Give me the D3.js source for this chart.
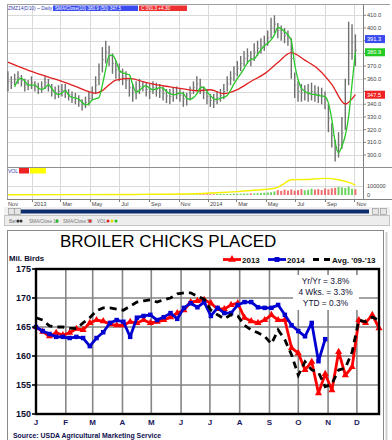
<!DOCTYPE html>
<html><head><meta charset="utf-8">
<script src="https://cdn.jsdelivr.net/npm/d3@7"></script>
<style>body{margin:0;background:#fff}svg{display:block;font-family:"Liberation Sans",Arial,sans-serif}</style>
</head><body><svg id="c" width="392" height="440"></svg>
<script>
// ================= TOP PANEL DATA (weekly, from 2012-11-12) =================
const priceStart = new Date(2012, 10, 12);
const priceLow = [350,352,355,356,354,350,351,352,350,348,
349,352,350,346,344,345,346,345,343,341,
340,338,335,337,339,343,348,355,365,372,
370,364,360,358,355,352,346,342,344,348,
350,346,344,348,346,345,343,341,340,342,
344,342,338,339,343,348,350,348,344,340,
338,337,340,342,344,350,355,358,362,366,
370,372,370,374,378,380,382,386,392,396,
392,390,388,386,360,345,342,342,343,342,
343,342,341,340,336,318,306,295,298,305,
320,355,375,370];
const priceHigh = [366,362,364,366,363,360,359,362,358,357,
358,362,360,356,354,355,356,356,352,350,
349,347,344,346,350,354,362,372,385,390,
386,380,374,372,368,366,360,356,358,360,
358,357,356,358,357,356,354,352,352,353,
354,352,350,349,354,358,362,360,354,352,
348,348,350,352,356,362,366,370,374,378,
382,384,382,388,390,392,394,398,408,410,
404,402,400,398,392,365,358,356,355,356,
357,355,354,353,350,340,325,312,318,330,
360,405,403,395];
const sma10 = [null,null,353.5,359.1,360.4,358.3,355.1,355.1,355.1,352.8,
351.7,352.8,355.4,352.4,348.8,347.7,348.8,350.9,347.2,345.4,
345.0,343.8,341.7,339.5,340.4,343.4,344.3,345.4,355.1,367.7,
378.3,378.7,374.4,367.1,364.8,364.0,363.1,355.4,349.4,350.9,
353.5,354.4,352.5,351.4,352.2,353.0,352.7,350.0,348.4,347.6,
347.8,348.9,348.3,344.6,344.0,345.2,348.1,352.7,353.5,349.8,
347.0,344.3,343.8,344.6,345.6,346.9,351.0,356.0,360.1,363.9,
368.1,372.6,375.4,375.7,379.2,382.9,385.8,388.0,390.6,394.6,
400.5,399.3,397.2,394.6,390.3,371.3,359.5,352.6,350.3,348.7,
348.0,347.6,347.0,346.5,346.0,340.9,328.3,310.3,301.8,306.9,
315.4,330.2,355.9,380.9];
const sma50Week = [0,4,8,12,16,20,24,26,28,30,32,36,40,44,48,52,56,60,64,68,72,76,80,84,88,92,96,100,103];
const sma50 = [373.2,368.9,364.9,361.4,358.0,354.1,349.9,348.8,350.7,355.3,359.0,360.4,357.8,355.4,353.7,352.1,350.6,351.4,348.3,351.5,357.9,363.9,372.8,380.7,374.7,367.6,355.7,340.2,347.5];
const volume = [1200,1500,1100,1800,1400,1600,1300,2000,1700,1500,
1900,2200,1600,2100,1800,2500,2000,2300,1900,2600,
2400,2800,2200,3000,2700,3300,2900,3100,3600,3400,
3000,3800,3500,3200,4000,3700,4200,3900,4500,4100,
4800,4400,5000,4700,5500,5200,6000,5600,6500,6100,
7000,6600,7500,7200,8000,7600,8500,8200,9000,8700,
9500,9200,10000,11000,10500,12000,11500,13000,12500,14000,
15000,16000,18000,17000,20000,22000,25000,28000,30000,40000,
55000,45000,60000,50000,62000,48000,55000,65000,52000,58000,
70000,60000,66000,55000,72000,64000,75000,80000,90000,85000,
78000,92000,70000,65000];
const oiWeek = [0,20,40,55,62,68,74,78,80,82,84,88,94,98,101,103];
const openInterest = [2000,4000,7000,14000,25000,38000,55000,70000,85000,130000,170000,172000,185000,170000,140000,110000];
const lastPrice = 391.3;
const topTickLabels = ["Nov","2013","Mar","May","Jul","Sep","Nov","2014","Mar","May","Jul","Sep","Nov"];
const priceTicks = [300,310,320,330,340,350,360,370,380,390,400,410];

// ================= BOTTOM PANEL DATA (weekly) =================
const monthLabels = ["J","F","M","A","M","J","J","A","S","O","N","D"];
const s2013 = [165.0,164.2,163.4,164.0,163.6,164.0,164.7,164.5,165.7,166.2,
166.0,165.5,165.3,165.3,165.9,165.7,166.2,165.7,165.9,166.2,
166.7,167.4,167.9,169.3,169.5,169.7,169.1,168.1,168.1,168.8,
169.1,166.6,166.0,165.7,166.2,167.1,166.2,166.2,161.4,160.5,
157.6,159.0,153.6,156.9,154.1,160.7,156.7,158.1,166.2,165.7,
167.1,164.8];
const s2014 = [165.0,164.3,163.8,163.3,163.3,163.1,163.3,163.1,161.7,163.1,
164.1,165.7,166.2,165.9,163.3,166.6,166.9,167.1,166.2,166.7,
167.4,166.4,168.3,169.1,168.4,169.3,166.9,168.3,167.4,167.4,
168.8,169.3,169.3,168.4,168.3,168.3,168.8,167.1,165.3,164.3,
163.4,165.7,159.1,162.9];
const avg0913 = [166.6,166.2,165.2,165.0,165.0,164.8,164.7,165.7,166.6,167.8,
168.3,168.3,168.1,167.9,168.6,169.3,169.5,169.7,169.3,169.7,
170.0,170.7,170.9,170.9,170.3,169.8,167.9,167.1,166.4,167.1,
166.9,165.3,164.5,164.0,163.4,162.1,164.5,162.8,160.2,156.7,
159.0,157.6,157.2,154.7,155.2,157.6,157.9,160.7,166.2,165.9,
166.7,166.2];
const yTicksB = [150,155,160,165,170,175];
const notes = ["Yr/Yr = 3.8%","4 Wks. = 3.3%","YTD = 0.3%"];
const seriesNames = ["2013","2014","Avg. '09-'13"];

// ================= DRAW =================
const svg = d3.select("#c");
svg.append("rect").attr("width",392).attr("height",440).attr("fill","#fff");

const weekDates = priceHigh.map((_,i)=>d3.timeDay.offset(priceStart,7*i));
const tx = d3.scaleTime().domain([weekDates[0], weekDates[weekDates.length-1]]).range([7.9,355.4]);
const ty = d3.scaleLinear().domain([290.6,418.9]).range([167,4]);
const vy = d3.scaleLinear().domain([0,100000]).range([195,186]);
const L=7, R=363, TOP=4, PB=167, VB=199;
const gTop = svg.append("g");

// grid
gTop.selectAll(".hg").data(priceTicks).join("line")
  .attr("x1",L).attr("x2",R).attr("y1",d=>Math.round(ty(d))+0.5).attr("y2",d=>Math.round(ty(d))+0.5)
  .attr("stroke","#dadada");
gTop.append("line").attr("x1",L).attr("x2",R).attr("y1",Math.round(vy(100000))+0.5).attr("y2",Math.round(vy(100000))+0.5).attr("stroke","#dadada");
const tickDates = d3.timeMonth.range(new Date(2012,10,1), new Date(2014,11,1), 2);
gTop.selectAll(".vg").data(tickDates.filter(d=>tx(d)>L+2)).join("line")
  .attr("x1",d=>Math.round(tx(d))+0.5).attr("x2",d=>Math.round(tx(d))+0.5).attr("y1",TOP).attr("y2",VB)
  .attr("stroke","#dadada");
// frame
gTop.append("line").attr("x1",L).attr("x2",390).attr("y1",TOP+0.5).attr("y2",TOP+0.5).attr("stroke","#a0a0a0");
gTop.append("line").attr("x1",L+0.5).attr("x2",L+0.5).attr("y1",TOP).attr("y2",VB).attr("stroke","#a0a0a0");
gTop.append("line").attr("x1",R+0.5).attr("x2",R+0.5).attr("y1",TOP).attr("y2",VB+1).attr("stroke","#808080");
gTop.append("line").attr("x1",L).attr("x2",392).attr("y1",PB+0.5).attr("y2",PB+0.5).attr("stroke","#909090");
gTop.append("line").attr("x1",L).attr("x2",392).attr("y1",VB+0.5).attr("y2",VB+0.5).attr("stroke","#808080");
gTop.selectAll(".xt").data(tickDates.filter(d=>tx(d)>L)).join("line")
  .attr("x1",d=>Math.round(tx(d))+0.5).attr("x2",d=>Math.round(tx(d))+0.5).attr("y1",VB).attr("y2",VB+3).attr("stroke","#808080");
gTop.selectAll(".rt").data(priceTicks).join("line")
  .attr("x1",R).attr("x2",R+3).attr("y1",d=>ty(d)).attr("y2",d=>ty(d)).attr("stroke","#808080");

// price bars
gTop.selectAll(".bar").data(weekDates).join("line")
  .attr("x1",d=>tx(d)).attr("x2",d=>tx(d))
  .attr("y1",(d,i)=>ty(priceHigh[i])).attr("y2",(d,i)=>ty(priceLow[i]))
  .attr("stroke","#707070").attr("stroke-width",1.4);
gTop.selectAll(".tk").data(weekDates).join("line")
  .attr("x1",d=>tx(d)).attr("x2",d=>tx(d)+1.6)
  .attr("y1",(d,i)=>ty((priceHigh[i]+priceLow[i])/2)).attr("y2",(d,i)=>ty((priceHigh[i]+priceLow[i])/2))
  .attr("stroke","#909090").attr("stroke-width",1);

// SMA lines
gTop.append("path").datum(sma50Week.map((w,k)=>[weekDates[w],sma50[k]]))
  .attr("d",d3.line().x(d=>tx(d[0])).y(d=>ty(d[1])).curve(d3.curveMonotoneX))
  .attr("fill","none").attr("stroke","#e02020").attr("stroke-width",1.3);
gTop.append("path").datum(weekDates.map((d,i)=>[d,sma10[i]]))
  .attr("d",d3.line().defined(d=>d[1]!=null).x(d=>tx(d[0])).y(d=>ty(d[1])).curve(d3.curveMonotoneX))
  .attr("fill","none").attr("stroke","#28c828").attr("stroke-width",1.3);

// volume
gTop.selectAll(".vol").data(weekDates).join("rect")
  .attr("x",d=>tx(d)-1).attr("width",2)
  .attr("y",(d,i)=>vy(volume[i])).attr("height",(d,i)=>vy(0)-vy(volume[i]))
  .attr("fill",(d,i)=>{const m=(priceHigh[i]+priceLow[i])/2, p=i?(priceHigh[i-1]+priceLow[i-1])/2:m; return m>=p?"#55cc44":"#ee5555";})
  .attr("opacity",0.85);
gTop.append("path").datum(oiWeek.map((w,k)=>[weekDates[w],openInterest[k]]))
  .attr("d",d3.line().x(d=>tx(d[0])).y(d=>vy(d[1])).curve(d3.curveMonotoneX))
  .attr("fill","none").attr("stroke","#f5f000").attr("stroke-width",1.4);

// badges values
const badges = [[lastPrice,"#3a4cf0"],[sma10[sma10.length-1],"#22cc22"],[sma50[sma50.length-1],"#ee2222"]];
// axis labels (right) - skip labels hidden behind badges
gTop.selectAll(".pl").data(priceTicks.filter(t=>badges.every(([v])=>Math.abs(ty(v)-ty(t))>7))).join("text")
  .attr("x",R+4).attr("y",d=>ty(d)).attr("dy","0.35em")
  .attr("font-size",5.6).attr("fill","#444").text(d=>d.toFixed(1));
gTop.append("text").attr("x",R+4).attr("y",vy(100000)).attr("dy","0.35em").attr("font-size",5.6).attr("fill","#444").text("100000");
gTop.append("text").attr("x",R+4).attr("y",vy(0)).attr("dy","0.35em").attr("font-size",5.6).attr("fill","#444").text("0");
badges.forEach(([v,c])=>{
  gTop.append("rect").attr("x",R+2).attr("y",ty(v)-4).attr("width",20).attr("height",8).attr("fill",c);
  gTop.append("text").attr("x",R+4).attr("y",ty(v)).attr("dy","0.35em").attr("font-size",5.6).attr("fill","#fff").text(v.toFixed(1));
});
// x labels
gTop.selectAll(".xl").data(tickDates).join("text")
  .attr("x",d=>Math.max(8,tx(d)+2)).attr("y",206).attr("font-size",5.6).attr("fill","#444")
  .text((d,i)=>topTickLabels[i]);

// title bar
gTop.append("text").attr("x",8).attr("y",10).attr("font-size",4.9).attr("fill","#3340b0").text("ZMZ14(D10) ~ Daily");
gTop.append("rect").attr("x",53).attr("y",5.5).attr("width",85).attr("height",5.5).attr("fill","#3a4cf0");
gTop.append("text").attr("x",55).attr("y",10).attr("font-size",4.6).attr("fill","#fff").text("SMA/Close(10) 380.9 (50) 347.5");
gTop.append("rect").attr("x",139).attr("y",5.5).attr("width",48).attr("height",5.5).attr("fill","#ee3030");
gTop.append("text").attr("x",141).attr("y",10).attr("font-size",4.6).attr("fill","#fff").text("C 391.3 +4.30");
// VOL legend
gTop.append("text").attr("x",8).attr("y",172.5).attr("font-size",5).attr("fill","#3340b0").text("VOL");
gTop.append("rect").attr("x",19).attr("y",168).attr("width",10).attr("height",5.5).attr("fill","#ee2222");
gTop.append("rect").attr("x",30).attr("y",168).attr("width",16).attr("height",5.5).attr("fill","#ffff00");

// scrollbar
gTop.append("rect").attr("x",4).attr("y",207).attr("width",386).attr("height",8).attr("fill","#f0f0f0");
gTop.append("rect").attr("x",21).attr("y",209.5).attr("width",348).attr("height",4).attr("fill","#0d2d6c");
[[8,208],[14,208],[372,208],[380,208]].forEach(([x,y])=>{
  gTop.append("rect").attr("x",x+0.5).attr("y",y+0.5).attr("width",6).attr("height",6).attr("fill","#e6e6e6").attr("stroke","#999").attr("stroke-width",0.7);
});
// legend row
gTop.append("rect").attr("x",4.5).attr("y",215.5).attr("width",385).attr("height",10).attr("fill","#ededed").attr("stroke","#c4c4c4");
const legItems = [["Bars",9,[["#333",18],["#333",21]]],["SMA/Close 10",29,[["#22bb22",57]]],["SMA/Close 50",63,[["#dd2222",90]]],["VOL",97,[["#dd2222",108],["#dddd00",112],["#22bb22",116]]]];
legItems.forEach(([t,x,dots])=>{
  gTop.append("text").attr("x",x).attr("y",222.5).attr("font-size",4.6).attr("fill","#777").text(t);
  dots.forEach(([c,dx])=>gTop.append("circle").attr("cx",dx).attr("cy",221).attr("r",1.5).attr("fill",c));
});

// ================= BOTTOM PANEL =================
const g = svg.append("g");
g.append("rect").attr("x",7.5).attr("y",230.5).attr("width",376).attr("height",215).attr("fill","#fff").attr("stroke","#8a8a8a");
g.append("line").attr("x1",386.5).attr("x2",386.5).attr("y1",232).attr("y2",440).attr("stroke","#cfcfcf").attr("stroke-width",2);

const BL=36, BR=379, BT=269, BB=414;
const yr = new Date(2013,0,1);
const monthDays = d3.timeMonth.range(yr, new Date(2014,0,1)).map(d=>d3.timeDay.count(yr,d));
const xB = d3.scaleLinear().domain([0,357]).range([BL,BR]);
const yB = d3.scaleLinear().domain([150,175]).range([BB,BT]);
const wx = i => xB(7*i);

// grid
g.selectAll(".bv").data(monthDays.slice(1)).join("line")
  .attr("x1",d=>xB(d)).attr("x2",d=>xB(d)).attr("y1",BT).attr("y2",BB)
  .attr("stroke","#858585").attr("stroke-width",1.6);
g.selectAll(".bh").data(yTicksB.slice(1,-1)).join("line")
  .attr("x1",BL).attr("x2",BR).attr("y1",d=>yB(d)).attr("y2",d=>yB(d))
  .attr("stroke","#858585").attr("stroke-width",1.6);
// annotation box
g.append("rect").attr("x",293).attr("y",275).attr("width",66).attr("height",35).attr("fill","#fff");
g.selectAll(".nt").data(notes).join("text")
  .attr("x",325.5).attr("y",(d,i)=>284+i*11).attr("text-anchor","middle")
  .attr("font-size",8.4).attr("fill","#111133").text(d=>d);

// series
const lineGen = d3.line().x((d,i)=>wx(i)).y(d=>yB(d));
g.append("path").datum(s2013).attr("d",lineGen).attr("fill","none").attr("stroke","#ff0000").attr("stroke-width",2.8).attr("stroke-linejoin","round");
g.selectAll(".m13").data(s2013).join("path")
  .attr("transform",(d,i)=>`translate(${wx(i)},${yB(d)})`)
  .attr("d",d3.symbol(d3.symbolTriangle,22)).attr("fill","#ff0000");
g.append("path").datum(s2014).attr("d",lineGen).attr("fill","none").attr("stroke","#0000d0").attr("stroke-width",2.8).attr("stroke-linejoin","round");
g.selectAll(".m14").data(s2014).join("path")
  .attr("transform",(d,i)=>`translate(${wx(i)},${yB(d)})`)
  .attr("d",d3.symbol(d3.symbolSquare,20)).attr("fill","#0000d0");
g.append("path").datum(avg0913).attr("d",lineGen).attr("fill","none").attr("stroke","#000").attr("stroke-width",2.8).attr("stroke-dasharray","7,5");

// frame
g.append("rect").attr("x",BL).attr("y",BT).attr("width",BR-BL).attr("height",BB-BT).attr("fill","none").attr("stroke","#000").attr("stroke-width",2.4);
g.selectAll(".yt").data(yTicksB).join("line")
  .attr("x1",BL-4).attr("x2",BL).attr("y1",d=>yB(d)).attr("y2",d=>yB(d)).attr("stroke","#000").attr("stroke-width",1.6);
g.selectAll(".yl").data(yTicksB).join("text")
  .attr("x",31).attr("y",d=>yB(d)).attr("dy","0.36em").attr("text-anchor","end")
  .attr("font-size",9).attr("font-weight","bold").attr("fill","#0c0c30").text(d=>d);
g.selectAll(".ml").data(monthDays).join("text")
  .attr("x",d=>xB(d)).attr("y",425).attr("text-anchor","middle")
  .attr("font-size",8).attr("font-weight","bold").attr("fill","#1a1a60").text((d,i)=>monthLabels[i]);

// titles
g.append("text").attr("x",60).attr("y",247).attr("font-size",17).attr("fill","#000").text("BROILER CHICKS PLACED");
g.append("text").attr("x",9).attr("y",261).attr("font-size",7.8).attr("font-weight","bold").attr("fill","#0c0c30").text("Mil. Birds");
g.append("text").attr("x",13).attr("y",438).attr("font-size",6.9).attr("font-weight","bold").attr("fill","#101050").text("Source: USDA Agricultural Marketing Service");

// legend
const ly = 259.5;
g.append("line").attr("x1",223).attr("x2",241).attr("y1",ly).attr("y2",ly).attr("stroke","#ff0000").attr("stroke-width",2.8);
g.append("path").attr("transform",`translate(232,${ly})`).attr("d",d3.symbol(d3.symbolTriangle,26)).attr("fill","#ff0000");
g.append("text").attr("x",242).attr("y",262.5).attr("font-size",8).attr("font-weight","bold").attr("fill","#111").text(seriesNames[0]);
g.append("line").attr("x1",268).attr("x2",286).attr("y1",ly).attr("y2",ly).attr("stroke","#0000d0").attr("stroke-width",2.8);
g.append("path").attr("transform",`translate(277,${ly})`).attr("d",d3.symbol(d3.symbolSquare,24)).attr("fill","#0000d0");
g.append("text").attr("x",287).attr("y",262.5).attr("font-size",8).attr("font-weight","bold").attr("fill","#111").text(seriesNames[1]);
g.append("line").attr("x1",313).attr("x2",331).attr("y1",ly).attr("y2",ly).attr("stroke","#000").attr("stroke-width",2.8).attr("stroke-dasharray","6,5");
g.append("text").attr("x",332).attr("y",262.5).attr("font-size",8).attr("font-weight","bold").attr("fill","#111").text(seriesNames[2]);
</script></body></html>
